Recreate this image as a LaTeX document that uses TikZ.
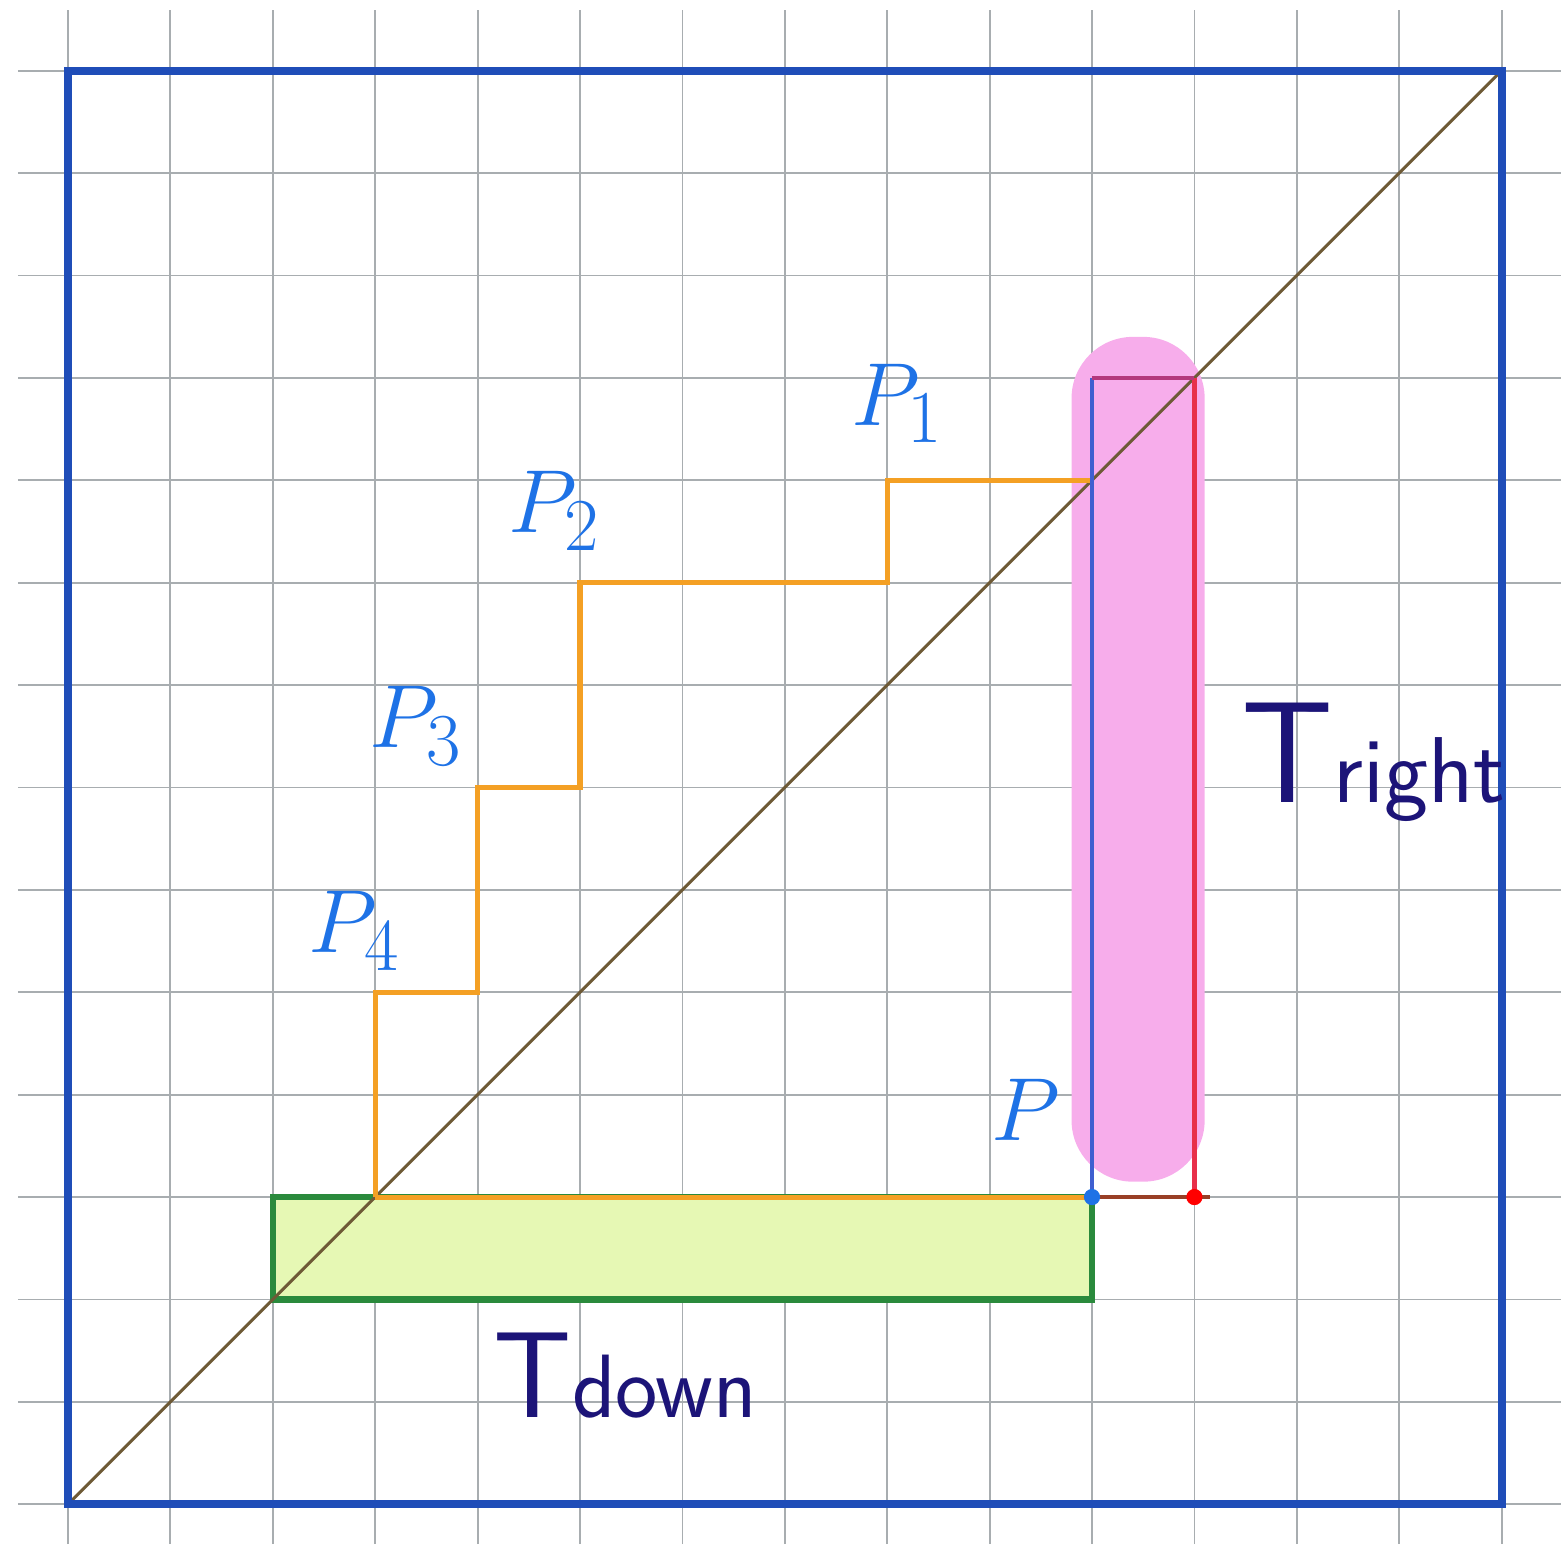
\documentclass[tikz,border=0pt]{standalone}
\usepackage{xcolor}
\usepackage{tikz}
\usetikzlibrary{positioning, calc, backgrounds}
\definecolor{frame}{HTML}{1F4DB8}
\definecolor{gridgray}{HTML}{A8ADB0}
\definecolor{diag}{HTML}{6E5A36}
\definecolor{stairs}{HTML}{F4A024}
\definecolor{boxgreen}{HTML}{2A8A3C}
\definecolor{boxfill}{HTML}{E6F8B4}
\definecolor{pinkfill}{HTML}{F7ADEB}
\definecolor{redline}{HTML}{E8304A}
\definecolor{blueline}{HTML}{3F5FD0}
\definecolor{ptblue}{HTML}{1E72E6}
\definecolor{navy}{HTML}{1C1478}

\begin{document}
\begin{tikzpicture}[
  x=1cm, y=1cm,
  every node/.style={font=\sffamily},
  gridline/.style={draw=gridgray, line width=0.5pt},
  outer/.style={draw=frame, line width=2.2pt},
  diagline/.style={draw=diag, line width=0.8pt},
  path/.style={draw=stairs, line width=1.4pt},
  tbox/.style={draw=boxgreen, fill=boxfill, line width=1.7pt},
  pt/.style={text=ptblue, font=\fontsize{30}{30}\selectfont},
  tlabel/.style={text=navy, inner sep=0pt},
  dot/.style={circle, inner sep=0pt, minimum size=4.5pt}
]
  \useasboundingbox (-0.664,-0.39) rectangle (14.58,14.69);

  % paper grid
  \foreach \i in {0,...,14} {
    \draw[gridline] (\i,-0.39) -- (\i,14.59);
    \draw[gridline] (-0.49,\i) -- (14.58,\i);
  }

  % corners of the cells
  \coordinate (o)   at (0,0);
  \coordinate (top) at (14,14);
  \coordinate (s0)  at (3,3);
  \coordinate (s1)  at (3,5);
  \coordinate (s2)  at (4,5);
  \coordinate (s3)  at (4,7);
  \coordinate (s4)  at (5,7);
  \coordinate (s5)  at (5,9);
  \coordinate (s6)  at (8,9);
  \coordinate (s7)  at (8,10);
  \coordinate (s8)  at (10,10);
  \coordinate (p)   at (10,3);
  \coordinate (q)   at (11,3);
  \coordinate (qt)  at (11,11);
  \coordinate (pt)  at (10,11);
  \coordinate (tail) at (11.15,3);

  % shaded strips
  \fill[pinkfill, rounded corners=0.6cm] (9.8,3.15) rectangle (11.1,11.4);
  \draw[tbox] (2,2) rectangle (p);

  % diagonal and the staircase
  \draw[diagline] (o) -- (top);
  \draw[path] (s0) -- (s1) -- (s2) -- (s3) -- (s4) -- (s5) -- (s6) -- (s7) -- (s8);
  \draw[path] (s0) -- (p);

  % right strip
  \draw[draw=blueline, line width=1.2pt] (p) -- (pt);
  \draw[draw=redline, line width=1.2pt] (q) -- (qt);
  \draw[draw=magenta!70!black, line width=1.2pt] (pt) -- (qt);
  \draw[draw=diag!70!red, line width=0.9pt] (p) -- (tail);
  \node[dot, fill=ptblue] (pdot) at (p) {};
  \node[dot, fill=red] (qdot) at (q) {};

  \draw[outer] (o) rectangle (top);

  % labels
  \node[pt] (p1) at (8.1,10.75) {$P_1$};
  \node[pt] (p2) at (4.75,9.7) {$P_2$};
  \node[pt] (p3) at (3.4,7.6) {$P_3$};
  \node[pt] (p4) at (2.8,5.6) {$P_4$};
  \node[pt] (pp) at (9.35,3.85) {$P$};
  \node[tlabel, anchor=base west] (tright) at (11.45,6.85) {{\fontsize{40}{40}\selectfont T}{\fontsize{26}{26}\selectfont right}};
  \node[tlabel, anchor=base west] (tdown) at (4.15,0.85) {{\fontsize{34}{34}\selectfont T}{\fontsize{25}{25}\selectfont down}};
\end{tikzpicture}
\end{document}
